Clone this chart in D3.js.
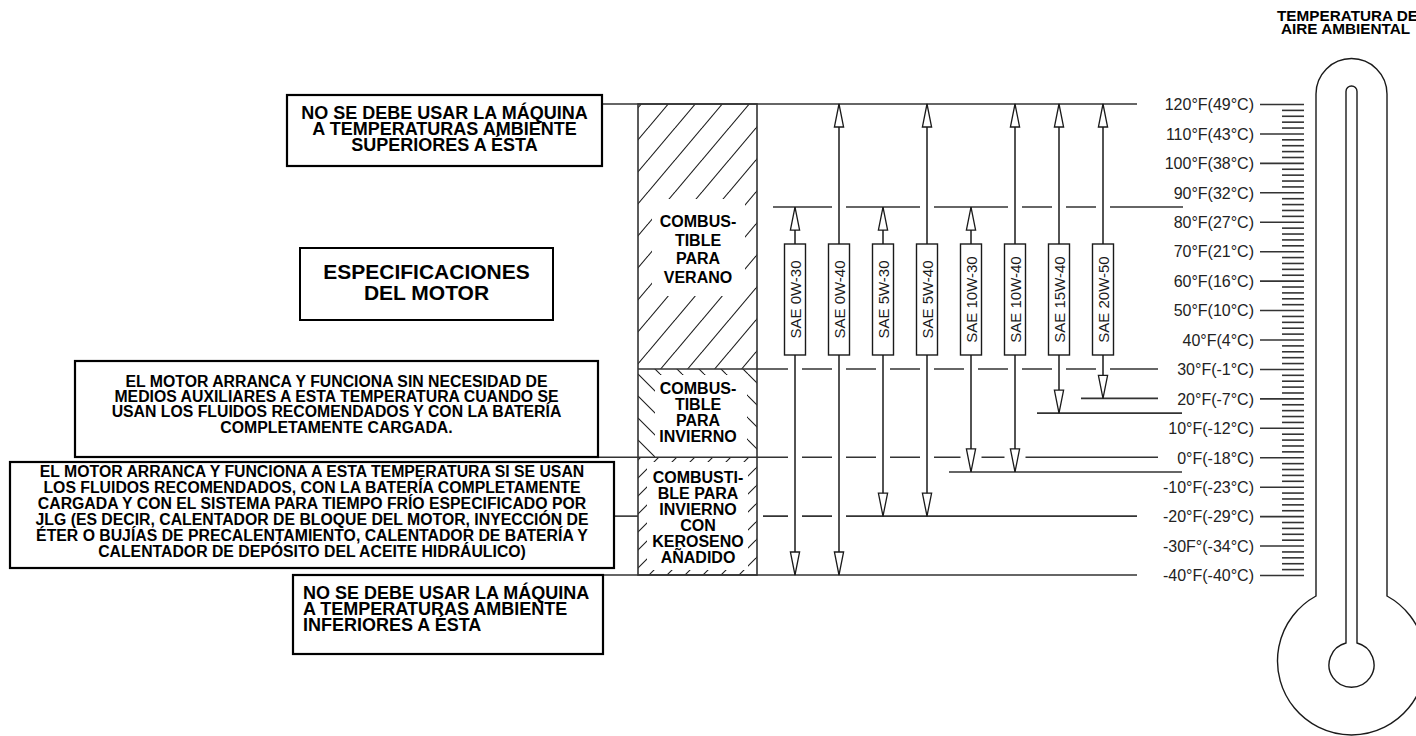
<!DOCTYPE html>
<html><head><meta charset="utf-8">
<script src="https://cdn.jsdelivr.net/npm/d3@7"></script>
<style>html,body{margin:0;padding:0;background:#fff;overflow:hidden}svg{display:block}</style>
</head><body><svg id="c" width="1416" height="736"></svg>
<script>
// ---------- DATA ----------
const tempTicks = [120,110,100,90,80,70,60,50,40,30,20,10,0,-10,-20,-30,-40];
const tickLabels = ["120°F(49°C)","110°F(43°C)","100°F(38°C)","90°F(32°C)","80°F(27°C)","70°F(21°C)","60°F(16°C)","50°F(10°C)","40°F(4°C)","30°F(-1°C)","20°F(-7°C)","10°F(-12°C)","0°F(-18°C)","-10°F(-23°C)","-20°F(-29°C)","-30F°(-34°C)","-40°F(-40°C)"];
const oilGrades = ["SAE 0W-30","SAE 0W-40","SAE 5W-30","SAE 5W-40","SAE 10W-30","SAE 10W-40","SAE 15W-40","SAE 20W-50"];
const oilMinF = [-40,-40,-20,-20,-5,-5,15,20];
const oilMaxF = [85,120,85,120,85,120,120,120];
const fuelLabels = [["COMBUS-","TIBLE","PARA","VERANO"],["COMBUS-","TIBLE","PARA","INVIERNO"],["COMBUSTI-","BLE PARA","INVIERNO","CON","KEROSENO","AÑADIDO"]];
const fuelMaxF = [120,30,0];
const fuelMinF = [30,0,-40];
const titleLines = ["TEMPERATURA DEL","AIRE AMBIENTAL"];
const noteTexts = [
  ["NO SE DEBE USAR LA MÁQUINA","A TEMPERATURAS AMBIENTE","SUPERIORES A ÉSTA"],
  ["ESPECIFICACIONES","DEL MOTOR"],
  ["EL MOTOR ARRANCA Y FUNCIONA SIN NECESIDAD DE","MEDIOS AUXILIARES A ESTA TEMPERATURA CUANDO SE","USAN LOS FLUIDOS RECOMENDADOS Y CON LA BATERÍA","COMPLETAMENTE CARGADA."],
  ["EL MOTOR ARRANCA Y FUNCIONA A ESTA TEMPERATURA SI SE USAN","LOS FLUIDOS RECOMENDADOS, CON LA BATERÍA COMPLETAMENTE","CARGADA Y CON EL SISTEMA PARA TIEMPO FRÍO ESPECIFICADO POR","JLG (ES DECIR, CALENTADOR DE BLOQUE DEL MOTOR, INYECCIÓN DE","ÉTER O BUJÍAS DE PRECALENTAMIENTO, CALENTADOR DE BATERÍA Y","CALENTADOR DE DEPÓSITO DEL ACEITE HIDRÁULICO)"],
  ["NO SE DEBE USAR LA MÁQUINA","A TEMPERATURAS AMBIENTE","INFERIORES A ÉSTA"]
];

// ---------- LAYOUT ----------
const FONT = "'Liberation Sans', Arial, Helvetica, sans-serif";
const INK = "#1a1a1a";
const svg = d3.select("#c");
const y = d3.scaleLinear().domain([-40,120]).range([575,104]);
const x = d3.scalePoint().domain(oilGrades).range([795,1103]);
const col = {x0:638, x1:757};
const arrowL = 23, arrowW = 4.6;

// patterns
const defs = svg.append("defs");
function hatch(id, w, h, dir){
  const p = defs.append("pattern").attr("id",id).attr("patternUnits","userSpaceOnUse")
    .attr("width",w).attr("height",h);
  const segs = dir === "/" ? [[0,h,w,0],[-w,h,0,0],[w,h,2*w,0]] : [[0,0,w,h],[-w,0,0,h],[w,0,2*w,h]];
  segs.forEach(s => p.append("line").attr("x1",s[0]).attr("y1",s[1]).attr("x2",s[2]).attr("y2",s[3])
    .attr("stroke",INK).attr("stroke-width",1.1));
}
hatch("hSummer", 27, 32, "/");
hatch("hWinter", 22, 22, "\\");
hatch("hKero", 18, 18, "/");
const fuelFill = ["url(#hSummer)","url(#hWinter)","url(#hKero)"];

// fuel column sections
const fuelG = svg.append("g");
fuelG.selectAll("rect.sec").data(fuelMaxF).join("rect").attr("class","sec")
  .attr("x",col.x0).attr("width",col.x1-col.x0)
  .attr("y",d=>y(d)).attr("height",(d,i)=>y(fuelMinF[i])-y(d))
  .attr("fill",(d,i)=>fuelFill[i]);
// white clearings behind text
const clear = [{x0:652,x1:745,y0:199,y1:296},{x0:655,x1:747,y0:375,y1:457},{x0:647,x1:748,y0:462,y1:570}];
fuelG.selectAll("rect.clr").data(clear).join("rect").attr("class","clr")
  .attr("x",d=>d.x0).attr("y",d=>d.y0).attr("width",d=>d.x1-d.x0).attr("height",d=>d.y1-d.y0).attr("fill","#fff");
const fuelText = [{b:227,lh:18.5},{b:394,lh:16},{b:483,lh:16}];
fuelLabels.forEach((lines,i)=>{
  fuelG.append("text").attr("font-family",FONT).attr("font-weight","bold").attr("font-size",16)
    .attr("fill","#000").attr("text-anchor","middle")
    .selectAll("tspan").data(lines).join("tspan")
    .attr("x",(col.x0+col.x1)/2+0.5).attr("y",(d,j)=>fuelText[i].b+j*fuelText[i].lh).text(d=>d);
});

// horizontal reference lines
const refLines = [
  {t:120, x1:602, x2:1137},
  {t:85, x1:x(oilGrades[0])-22, x2:1183},
  {t:30, x1:col.x0, x2:1158},
  {t:20, x1:x(oilGrades[7])-22, x2:1158},
  {t:15, x1:x(oilGrades[6])-22, x2:1182},
  {t:0, x1:597, x2:1158},
  {t:-5, x1:x(oilGrades[4])-22, x2:1182},
  {t:-20, x1:614, x2:col.x0},
  {t:-20, x1:763, x2:1137},
  {t:-40, x1:603, x2:1137}
];
svg.append("g").selectAll("line").data(refLines).join("line")
  .attr("x1",d=>d.x1).attr("x2",d=>d.x2).attr("y1",d=>y(d.t)).attr("y2",d=>y(d.t))
  .attr("stroke","#333").attr("stroke-width",1.6);

// column outline
svg.append("rect").attr("x",col.x0).attr("y",y(120)).attr("width",col.x1-col.x0).attr("height",y(-40)-y(120))
  .attr("fill","none").attr("stroke","#333").attr("stroke-width",1.6);

// oil ranges: halos first (break crossing lines)
const oils = oilGrades.map((g,i)=>({g, lo:oilMinF[i], hi:oilMaxF[i]}));
const halo = svg.append("g");
halo.selectAll("line").data(oils).join("line")
  .attr("x1",d=>x(d.g)).attr("x2",d=>x(d.g)).attr("y1",d=>y(d.hi)+4).attr("y2",d=>y(d.lo)-4)
  .attr("stroke","#fff").attr("stroke-width",14);
halo.selectAll("rect").data(oils).join("rect")
  .attr("x",d=>x(d.g)-10.5).attr("width",21).attr("y",d=>y(d.lo)-arrowL).attr("height",arrowL-7)
  .attr("fill","#fff");

const oilG = svg.append("g");
oilG.selectAll("line").data(oils).join("line")
  .attr("x1",d=>x(d.g)).attr("x2",d=>x(d.g)).attr("y1",d=>y(d.hi)).attr("y2",d=>y(d.lo))
  .attr("stroke",INK).attr("stroke-width",1.5);
oilG.selectAll("path.up").data(oils).join("path").attr("class","up")
  .attr("d",d=>{const cx=x(d.g), t=y(d.hi); return `M${cx},${t}L${cx-arrowW},${t+arrowL}L${cx+arrowW},${t+arrowL}Z`;})
  .attr("fill","#fff").attr("stroke",INK).attr("stroke-width",1.3);
oilG.selectAll("path.dn").data(oils).join("path").attr("class","dn")
  .attr("d",d=>{const cx=x(d.g), b=y(d.lo); return `M${cx},${b}L${cx-arrowW},${b-arrowL}L${cx+arrowW},${b-arrowL}Z`;})
  .attr("fill","#fff").attr("stroke",INK).attr("stroke-width",1.3);
// label boxes
const lab = {y0:244, y1:355, w:21};
oilG.selectAll("rect").data(oils).join("rect")
  .attr("x",d=>x(d.g)-lab.w/2).attr("width",lab.w).attr("y",lab.y0).attr("height",lab.y1-lab.y0)
  .attr("fill","#fff").attr("stroke",INK).attr("stroke-width",1.4);
oilG.selectAll("text").data(oils).join("text")
  .attr("transform",d=>`translate(${x(d.g)+5.5},${(lab.y0+lab.y1)/2}) rotate(-90)`)
  .attr("text-anchor","middle").attr("font-family",FONT).attr("font-size",15).attr("fill",INK)
  .text(d=>d.g);

// temperature axis (labels + major ticks) and minor ticks
const axisX = 1304;
const major = d3.axisLeft(y).tickValues(tempTicks).tickSize(44).tickPadding(6)
  .tickFormat((d,i)=>tickLabels[i]);
const ga = svg.append("g").attr("transform",`translate(${axisX},0)`).call(major);
ga.select(".domain").remove();
ga.selectAll(".tick line").attr("stroke","#333").attr("stroke-width",1.6);
ga.selectAll(".tick text").attr("font-family",FONT).attr("font-size",16).attr("fill","#222").attr("dy","0.36em");
const minorVals = d3.range(-40,121,2).filter(v=>v%10!==0);
const gm = svg.append("g").attr("transform",`translate(${axisX},0)`)
  .call(d3.axisLeft(y).tickValues(minorVals).tickSize(22).tickFormat(""));
gm.select(".domain").remove();
gm.selectAll(".tick line").attr("stroke","#333").attr("stroke-width",1.6);

// thermometer
const th = svg.append("g").attr("fill","none").attr("stroke",INK).attr("stroke-width",1.4);
th.append("path").attr("d","M1316,596 L1316,94 A35.5,35.5 0 0 1 1387,94 L1387,596 A74,74 0 1 1 1316,596 Z");
th.append("path").attr("d","M1346,643 L1346,91.5 A5.5,5.5 0 0 1 1357,91.5 L1357,643 A22.5,22.5 0 1 1 1346,643 Z");

// title
svg.append("text").attr("font-family",FONT).attr("font-weight","bold").attr("font-size",15.3).attr("fill","#000")
  .selectAll("tspan").data(titleLines).join("tspan")
  .attr("x",(d,i)=>[1277,1281][i]).attr("y",(d,i)=>21+i*12.5).text(d=>d);

// note boxes
const noteLayout = [
  {x:287,y:95,w:315,h:71,fs:18,lh:16,b:119,anchor:"middle",sw:2.2},
  {x:300,y:248,w:253,h:72,fs:21,lh:21,b:279,anchor:"middle",sw:2},
  {x:75,y:361,w:523,h:96,fs:15.8,lh:15.2,b:387,anchor:"middle",sw:2.2},
  {x:10,y:462,w:604,h:106,fs:15.8,lh:16,b:477,anchor:"middle",sw:2.2},
  {x:293,y:575,w:310,h:79,fs:18,lh:16,b:599,anchor:"start",sw:2.2}
];
noteTexts.forEach((lines,i)=>{
  const L = noteLayout[i];
  const g = svg.append("g");
  g.append("rect").attr("x",L.x).attr("y",L.y).attr("width",L.w).attr("height",L.h)
    .attr("fill","#fff").attr("stroke","#000").attr("stroke-width",L.sw);
  g.append("text").attr("font-family",FONT).attr("font-weight","bold").attr("font-size",L.fs)
    .attr("fill","#000").attr("text-anchor",L.anchor)
    .selectAll("tspan").data(lines).join("tspan")
    .attr("x",L.anchor==="middle"? L.x+L.w/2 : L.x+10).attr("y",(d,j)=>L.b+j*L.lh).text(d=>d);
});
</script></body></html>
